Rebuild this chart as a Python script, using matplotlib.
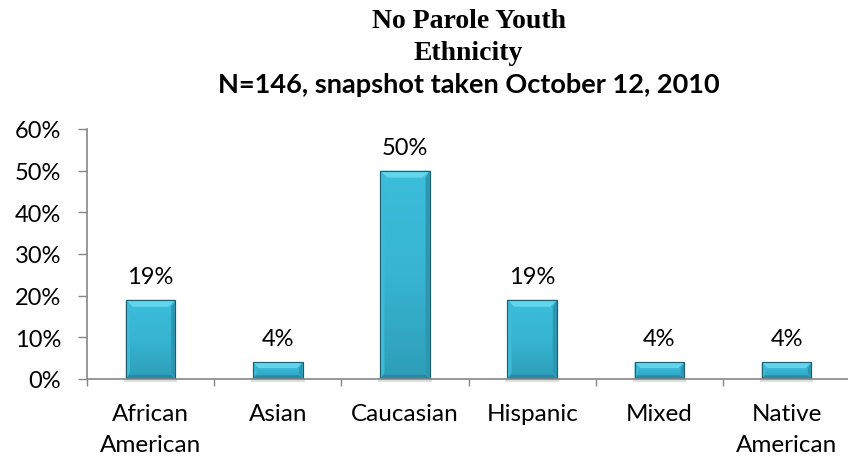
import matplotlib
matplotlib.use("Agg")
import matplotlib.pyplot as plt
import numpy as np
from matplotlib.patches import Polygon
from matplotlib.ticker import FuncFormatter, MultipleLocator

categories = ["African\nAmerican", "Asian", "Caucasian", "Hispanic", "Mixed", "Native\nAmerican"]
values = [19, 4, 50, 19, 4, 4]
labels = ["19%", "4%", "50%", "19%", "4%", "4%"]

fig = plt.figure(figsize=(8.48, 4.6), dpi=100)
ax = fig.add_axes([0.1026, 0.174, 0.9, 0.5435])

x = np.arange(len(categories))
bars = ax.bar(x, values, width=0.39, color="#36B3D1", edgecolor="#1C5F70", linewidth=0.8, zorder=3)

ax.set_xlim(-0.5, len(categories) - 0.5)
ax.set_ylim(0, 60)

# pixel size in data units, for the bevel and shadow
px_x = 1.0 / (ax.get_position().width * 848 / len(categories))
px_y = 60.0 / (ax.get_position().height * 460)

cmap = matplotlib.colors.LinearSegmentedColormap.from_list("g", ["#2E9EB9", "#37B4D2", "#3CBEDB"])
grad = np.linspace(0, 1, 64).reshape(-1, 1)
for b in bars:
    x0, w, h = b.get_x(), b.get_width(), b.get_height()
    x1 = x0 + w
    # soft shadow below
    ax.add_patch(plt.Rectangle((x0 - 2 * px_x, -3 * px_y), w + 4 * px_x, 3 * px_y,
                               color="#c0c0c0", alpha=0.5, lw=0, zorder=2, clip_on=False))
    im = ax.imshow(grad, extent=(x0, x1, 0, h), origin="lower", aspect="auto",
                   cmap=cmap, zorder=3.5)
    im.set_clip_path(b)
    bv = min(7, h / px_y * 0.35)
    bx, by = bv * px_x, bv * px_y
    ax.add_patch(Polygon([(x0, h), (x1, h), (x1 - bx, h - by), (x0 + bx, h - by)],
                         closed=True, color="#62D4EC", lw=0, zorder=4))
    ax.add_patch(Polygon([(x0, 0), (x0 + bx * 0.6, by), (x0 + bx * 0.6, h - by), (x0, h)],
                         closed=True, color="#3DBAD6", lw=0, zorder=4))
    ax.add_patch(Polygon([(x1, 0), (x1 - bx * 0.6, by), (x1 - bx * 0.6, h - by), (x1, h)],
                         closed=True, color="#2D97B1", lw=0, zorder=4))
    ax.add_patch(Polygon([(x0, 0), (x1, 0), (x1 - bx * 0.6, by * 0.6), (x0 + bx * 0.6, by * 0.6)],
                         closed=True, color="#2688A1", lw=0, zorder=4))
    ax.add_patch(plt.Rectangle((x0, 0), w, h, fill=False, edgecolor="#1C5F70", lw=0.8, zorder=5))

for xi, v, lab in zip(x, values, labels):
    ax.text(xi, v + 17 * px_y, lab, ha="center", va="baseline", fontsize=17, family="Lato")

ax.yaxis.set_major_locator(MultipleLocator(10))
ax.yaxis.set_major_formatter(FuncFormatter(lambda v, p: "%d%%" % v))
ax.set_xticks(x)
ax.set_xticklabels(categories, fontsize=17.5, family="Lato", linespacing=1.6)
ax.set_xticks(np.arange(-0.5, len(categories), 1), minor=True)
ax.tick_params(axis="x", which="major", length=0, pad=17)
ax.tick_params(axis="x", which="minor", length=5, width=1, color="#868686", direction="out")
ax.tick_params(axis="y", length=6.5, width=1, color="#868686", direction="out", labelsize=17, pad=12)
for t in ax.get_yticklabels():
    t.set_family("Lato")

for s in ["top", "right"]:
    ax.spines[s].set_visible(False)
for s in ["left", "bottom"]:
    ax.spines[s].set_color("#868686")
    ax.spines[s].set_linewidth(1.2)
    ax.spines[s].set_zorder(6)

cx = 0.1026 + 0.9 / 2
fig.text(cx, 1 - 28 / 460, "No Parole Youth", ha="center", va="baseline",
         fontsize=20, fontweight="bold", family="Liberation Serif")
fig.text(cx, 1 - 60 / 460, "Ethnicity", ha="center", va="baseline",
         fontsize=20, fontweight="bold", family="Liberation Serif")
fig.text(cx, 1 - 93 / 460, "N=146, snapshot taken October 12, 2010", ha="center", va="baseline",
         fontsize=19.5, fontweight="bold", family="Lato")

fig.savefig("out.png", dpi=100)
